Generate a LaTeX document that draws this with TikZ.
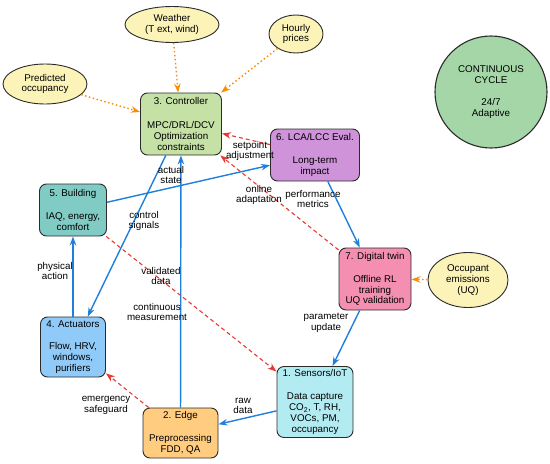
\documentclass[tikz,border=0pt]{standalone}
\usepackage{fontspec}
\setmainfont{Liberation Sans}
\usetikzlibrary{arrows.meta,shapes.geometric}
\definecolor{ellfill}{HTML}{FBF3B8}
\definecolor{ctrlfill}{HTML}{C5E1A5}
\definecolor{lcafill}{HTML}{CE93D8}
\definecolor{dtfill}{HTML}{F48FB1}
\definecolor{bldfill}{HTML}{80CBC4}
\definecolor{actfill}{HTML}{90CAF9}
\definecolor{edgefill}{HTML}{FFCC80}
\definecolor{sensfill}{HTML}{B2EBF2}
\definecolor{cycfill}{HTML}{A5D6A7}
\definecolor{flowblue}{HTML}{1E7FDC}
\definecolor{fbred}{HTML}{E53935}
\definecolor{extorange}{HTML}{FB8C00}
\definecolor{bordergray}{HTML}{2B2B2B}
\begin{document}
\begin{tikzpicture}[x=1pt,y=-1pt,
  font=\fontsize{9.8}{10.8}\selectfont,
  box/.style={draw=bordergray, line width=0.9pt, rounded corners=7pt, align=center, inner sep=0pt},
  ell/.style={ellipse, draw=bordergray, line width=0.9pt, fill=ellfill, align=center, inner sep=0pt},
  flow/.style={draw=flowblue, line width=1.4pt, -{Stealth[length=9pt,width=6.5pt]}},
  fb/.style={draw=fbred, line width=1.1pt, dash pattern=on 4pt off 3pt, -{Stealth[length=9pt,width=6.5pt]}},
  ext/.style={draw=extorange, line width=1.4pt, dash pattern=on 1.5pt off 2.5pt, -{Stealth[length=9pt,width=6.5pt]}},
  lbl/.style={align=center, inner sep=0pt}]
\useasboundingbox (0,0) rectangle (550,464);

% external inputs
\node[ell, minimum width=94pt, minimum height=36pt] (weather) at (172,24.5) {Weather\\(T ext, wind)};
\node[ell, minimum width=54pt, minimum height=38pt] (prices) at (296,34) {Hourly\\prices};
\node[ell, minimum width=84pt, minimum height=40pt] (predocc) at (45,84) {Predicted\\occupancy};
\node[ell, minimum width=80pt, minimum height=55pt] (emis) at (468,280) {Occupant\\emissions\\(UQ)};

% main nodes
\node[box, fill=ctrlfill, minimum width=81pt, minimum height=62pt] (ctrl) at (181,124)
  {3. Controller\\[13pt]MPC/DRL/DCV\\Optimization\\constraints};
\node[box, fill=lcafill, minimum width=89pt, minimum height=52pt] (lca) at (315,155)
  {6. LCA/LCC Eval.\\[12pt]Long-term\\impact};
\node[box, fill=dtfill, minimum width=72pt, minimum height=62pt] (dt) at (375,279)
  {7. Digital twin\\[12pt]Offline RL\\training\\UQ validation};
\node[box, fill=bldfill, minimum width=67pt, minimum height=52pt] (bld) at (73,210)
  {5. Building\\[12pt]IAQ, energy,\\comfort};
\node[box, fill=actfill, minimum width=65pt, minimum height=60pt] (act) at (73,347)
  {4. Actuators\\[12pt]Flow, HRV,\\windows,\\purifiers};
\node[box, fill=edgefill, minimum width=75pt, minimum height=50pt] (edge) at (180.5,433)
  {2. Edge\\[12pt]Preprocessing\\FDD, QA};
\node[box, fill=sensfill, minimum width=76pt, minimum height=71pt] (sens) at (315,402)
  {1. Sensors/IoT\\[12pt]Data capture\\CO\textsubscript{2}, T, RH,\\VOCs, PM,\\occupancy};

\node[circle, draw=bordergray, line width=1.1pt, fill=cycfill, minimum size=112pt, inner sep=0pt, align=center] (cycle) at (491,92)
  {CONTINUOUS\\CYCLE\\[12pt]24/7\\Adaptive};

% external dotted arrows
\draw[ext] (weather) -- (ctrl);
\draw[ext] (prices) -- (ctrl);
\draw[ext] (predocc) -- (ctrl);
\draw[ext] (emis) -- (dt);

% main flow
\draw[flow] (sens) -- (edge);
\draw[flow] (edge) -- (ctrl);
\draw[flow] (ctrl) -- (act);
\draw[flow] (act) -- (bld);
\draw[flow] (bld) -- (lca);
\draw[flow] (lca) -- (dt);
\draw[flow] (dt) -- (sens);

% feedback dashed arrows
\draw[fb] (lca) -- (ctrl);
\draw[fb] (dt) -- (ctrl);
\draw[fb] (bld) -- (sens);
\draw[fb] (edge) -- (act);

% labels
\node[lbl] (l1) at (243,406) {raw\\data};
\node[lbl] (l2) at (157,312) {continuous\\measurement};
\node[lbl] (l3) at (171,175) {actual\\state};
\node[lbl] (l4) at (144,221) {control\\signals};
\node[lbl] (l5) at (55,271) {physical\\action};
\node[lbl] (l6) at (161,276) {validated\\data};
\node[lbl] (l7) at (250,151) {setpoint\\adjustment};
\node[lbl] (l8) at (259,195) {online\\adaptation};
\node[lbl] (l9) at (313,199) {performance\\metrics};
\node[lbl] (l10) at (326,323) {parameter\\update};
\node[lbl] (l11) at (106,405) {emergency\\safeguard};
\end{tikzpicture}
\end{document}
